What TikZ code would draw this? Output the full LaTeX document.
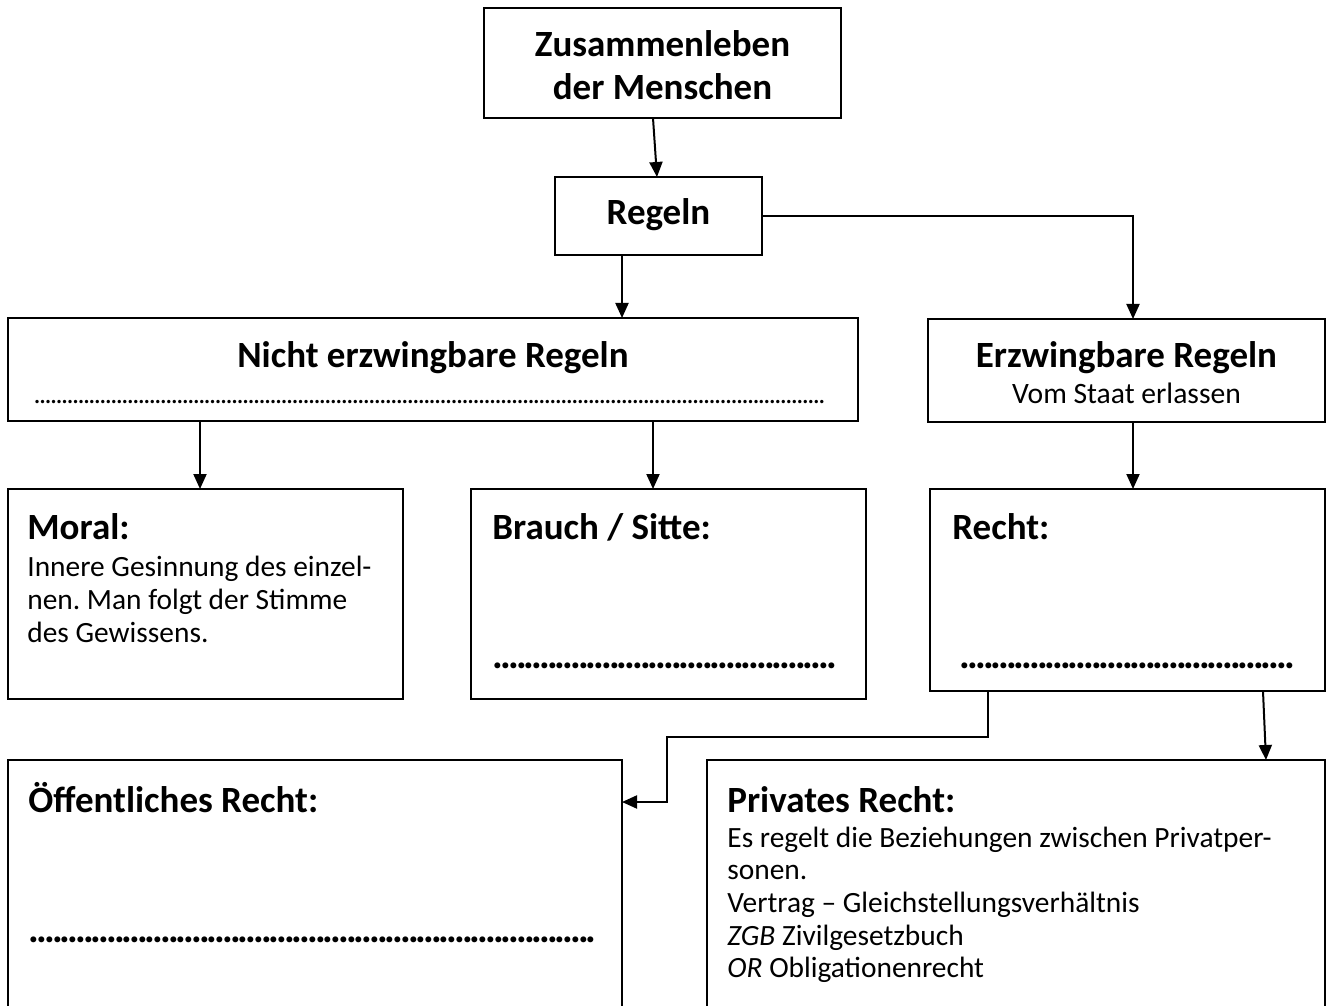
\documentclass[tikz,border=0pt]{standalone}
\usepackage{fontspec}
\setmainfont{Carlito}
\usetikzlibrary{arrows.meta,calc,positioning}

\newcommand\headfont{\fontsize{18.5}{21.5}\selectfont\bfseries}
\newcommand\bodyfont{\fontsize{14.7}{16.5}\selectfont}
\newcommand\dotfont{\fontsize{20}{20}\selectfont\bfseries}
% row of dots to fill in: width, spacing
\newcommand\dotrow[2]{\hbox to #1{\xleaders\hbox to #2{\hss.\hss}\hfill}}
\frenchspacing

\begin{document}
\begin{tikzpicture}[
  x=0.5pt,y=-0.5pt,
  box/.style={draw=black,line width=0.9pt,fill=white,inner sep=0pt,
    outer sep=0pt,anchor=north west},
  arr/.style={-{Triangle[length=7.5pt,width=6.5pt]},line width=1pt},
  head/.style={inner sep=0pt,font=\headfont},
  body/.style={inner sep=0pt,font=\bodyfont,align=left},
  dots/.style={inner sep=0pt,font=\dotfont,anchor=base west}
]
\useasboundingbox (0,0) rectangle (1330,1006);
\clip (0,0) rectangle (1330,1006);

% boxes
\node[box,minimum width=178.5pt,minimum height=55pt] (menschen) at (484,8) {};
\node[box,minimum width=103.5pt,minimum height=39pt] (regeln) at (555,177) {};
\node[box,minimum width=425pt,minimum height=51.5pt] (nicht) at (8,318) {};
\node[box,minimum width=198.5pt,minimum height=51.5pt] (erzw) at (928,319) {};
\node[box,minimum width=197.5pt,minimum height=105pt] (moral) at (8,489) {};
\node[box,minimum width=197.5pt,minimum height=105pt] (brauch) at (471,489) {};
\node[box,minimum width=197.5pt,minimum height=101pt] (recht) at (930,489) {};
\node[box,minimum width=307pt,minimum height=140pt] (oeff) at (8,760) {};
\node[box,minimum width=309pt,minimum height=140pt] (priv) at (707,760) {};

% texts
\node[head,anchor=base] (menschen-t1) at (662.5,57) {Zusammenleben};
\node[head,anchor=base] (menschen-t2) at (662.5,100) {der Menschen};
\node[head,anchor=base] (regeln-t) at (658.5,225) {Regeln};
\node[head,anchor=base] (nicht-t) at (433,367) {Nicht erzwingbare Regeln};
\node[dots,font=\fontsize{14}{14}\selectfont] (nicht-d) at (34,403)
  {\dotrow{396pt}{2.75pt}};
\node[head,anchor=base] (erzw-t) at (1126.5,367) {Erzwingbare Regeln};
\node[body,anchor=base,font=\fontsize{14.8}{16.5}\selectfont] (erzw-s)
  at (1126.5,403) {Vom Staat erlassen};

\node[head,anchor=base west] (moral-t) at (27,539) {Moral:};
\node[body,anchor=base west] (moral-s1) at (27,576) {Innere Gesinnung des einzel-};
\node[body,anchor=base west] (moral-s2) at (27,609) {nen. Man folgt der Stimme};
\node[body,anchor=base west] (moral-s3) at (27,642) {des Gewissens.};

\node[head,anchor=base west] (brauch-t) at (492,539) {Brauch / Sitte:};
\node[dots] (brauch-d) at (494,668) {\dotrow{170.5pt}{3.85pt}};

\node[head,anchor=base west] (recht-t) at (952,539) {Recht:};
\node[dots] (recht-d) at (961,668) {\dotrow{166pt}{3.85pt}};

\node[head,anchor=base west] (oeff-t) at (28,812) {Öffentliches Recht:};
\node[dots] (oeff-d) at (30,942) {\dotrow{282.5pt}{3.85pt}};

\node[head,anchor=base west] (priv-t) at (727,812) {Privates Recht:};
\node[body,anchor=base west] (priv-s1) at (727,847) {Es regelt die Beziehungen zwischen Privatper-};
\node[body,anchor=base west] (priv-s2) at (727,879) {sonen.};
\node[body,anchor=base west] (priv-s3) at (727,912) {Vertrag – Gleichstellungsverhältnis};
\node[body,anchor=base west] (priv-s4) at (727,945) {\textit{ZGB} Zivilgesetzbuch};
\node[body,anchor=base west] (priv-s5) at (727,977) {\textit{OR} Obligationenrecht};

% connectors
\coordinate (knick) at (667,737);
\draw[arr] ([xshift=-4.75pt]menschen.south) -- ([xshift=-0.75pt]regeln.north);
\draw[arr] ([xshift=-18.25pt]regeln.south) -- ([xshift=94.5pt]nicht.north);
\draw[arr] (regeln.east) -| ([xshift=3.25pt]erzw.north);
\draw[arr] ([xshift=-116.5pt]nicht.south) -- ([xshift=-2.75pt]moral.north);
\draw[arr] ([xshift=110pt]nicht.south) -- ([xshift=-7.75pt]brauch.north);
\draw[arr] ([xshift=3.25pt]erzw.south) -- ([xshift=2.75pt]recht.north);
\draw[arr] ([xshift=-69.75pt]recht.south) |- (knick) |- ([yshift=-21pt]oeff.north east);
\draw[arr] ([xshift=67.75pt]recht.south) -- ([xshift=125pt]priv.north);

\end{tikzpicture}
\end{document}
